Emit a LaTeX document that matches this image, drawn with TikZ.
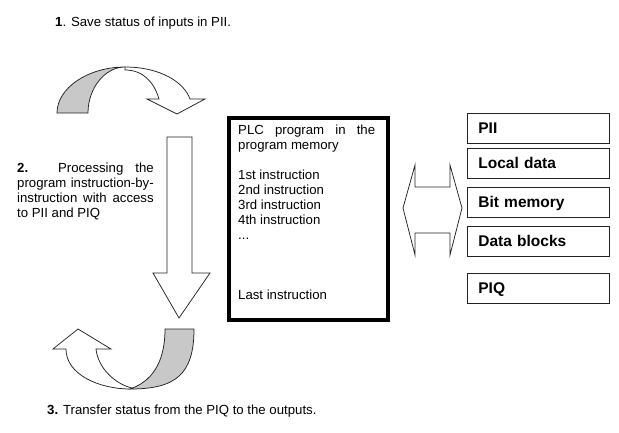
\documentclass[tikz,border=0pt]{standalone}
\usepackage{fontspec}
\setmainfont{Liberation Sans}
\usetikzlibrary{positioning}
\definecolor{ink}{RGB}{35,35,35}
\definecolor{band}{RGB}{200,200,200}
\tikzset{
  txt/.style={inner sep=0pt,anchor=base west,font=\fontsize{13.2}{15}\selectfont},
  para/.style={txt,anchor=north west,text width=#1,align=justify},
  progbox/.style={draw=black,line width=3.5pt,minimum width=159pt,minimum height=202pt,
    anchor=north west,inner sep=0pt},
  membox/.style={draw=ink,line width=0.8pt,minimum height=30pt,text width=120pt,
    inner xsep=11pt,text height=11.1pt,text depth=0pt,align=left,anchor=north west,
    font=\fontsize{15.5}{18}\selectfont\bfseries},
  blk/.style={draw=ink,line width=0.75pt,line join=miter,fill=#1},
  blk/.default=white,
}
\begin{document}
\begin{tikzpicture}[x=1pt,y=-1pt]
  \useasboundingbox (0,0) rectangle (619,432);
  % steps of the cycle
  \node[txt] (step1) at (55,26.5) {\textbf{1}. Save status of inputs in PII.};
  \node[para=136.5pt] (step2) at (17,163) {\textbf{2.} Processing the\linebreak
    program instruction-by-\linebreak instruction with access\linebreak to PII and PIQ};
  \node[txt] (step3) at (47,414.5) {\textbf{3.} Transfer status from the PIQ to the outputs.};

  % curved arrow on top
  \draw[blk=band] (57,113) .. controls (57,88) and (88,67) .. (125,67)
    .. controls (105,67) and (88,88) .. (88,113) -- cycle;
  \draw[blk] (125,67) .. controls (160,67) and (184,82) .. (190,99) -- (205,99) -- (177,114)
    -- (147,99) -- (159,99) .. controls (154,82) and (143,70) .. (125,70) -- cycle;
  % straight arrow down
  \draw[blk] (167,137) -- (192,137) -- (192,273) -- (210,273) -- (179,318) -- (153,273)
    -- (167,273) -- cycle;
  % curved arrow at the bottom
  \draw[blk=band] (165,329) -- (194,329) .. controls (194,375) and (175,389) .. (130,389)
    .. controls (150,382) and (165,365) .. (165,329) -- cycle;
  \draw[blk] (130,389) .. controls (100,389) and (66,375) .. (66,349) -- (53,349) -- (78,329)
    -- (111,349) -- (96,349) .. controls (98,368) and (115,384) .. (132,388) -- cycle;

  % program memory
  \node[progbox] (prog) at (227,116) {};
  \node[para=137pt] (progtxt) at ([xshift=11pt,yshift=-8.5pt]prog.north west)
    {PLC program in the\linebreak program memory\par\mbox{}\par
     1st instruction\par 2nd instruction\par 3rd instruction\par 4th instruction\par
     ...\par\mbox{}\par\mbox{}\par\mbox{}\par Last instruction};

  % data areas
  \draw[blk] (415,165) -- (415,187) -- (450,187) -- (450,165) -- (462,208) -- (450,255)
    -- (450,233) -- (415,233) -- (415,255) -- (403,208) -- cycle;
  \foreach \t/\y [count=\i] in {PII/113,Local data/148,Bit memory/187,Data blocks/226,PIQ/273}
    \node[membox] (m\i) at (467,\y) {\t};
\end{tikzpicture}
\end{document}
